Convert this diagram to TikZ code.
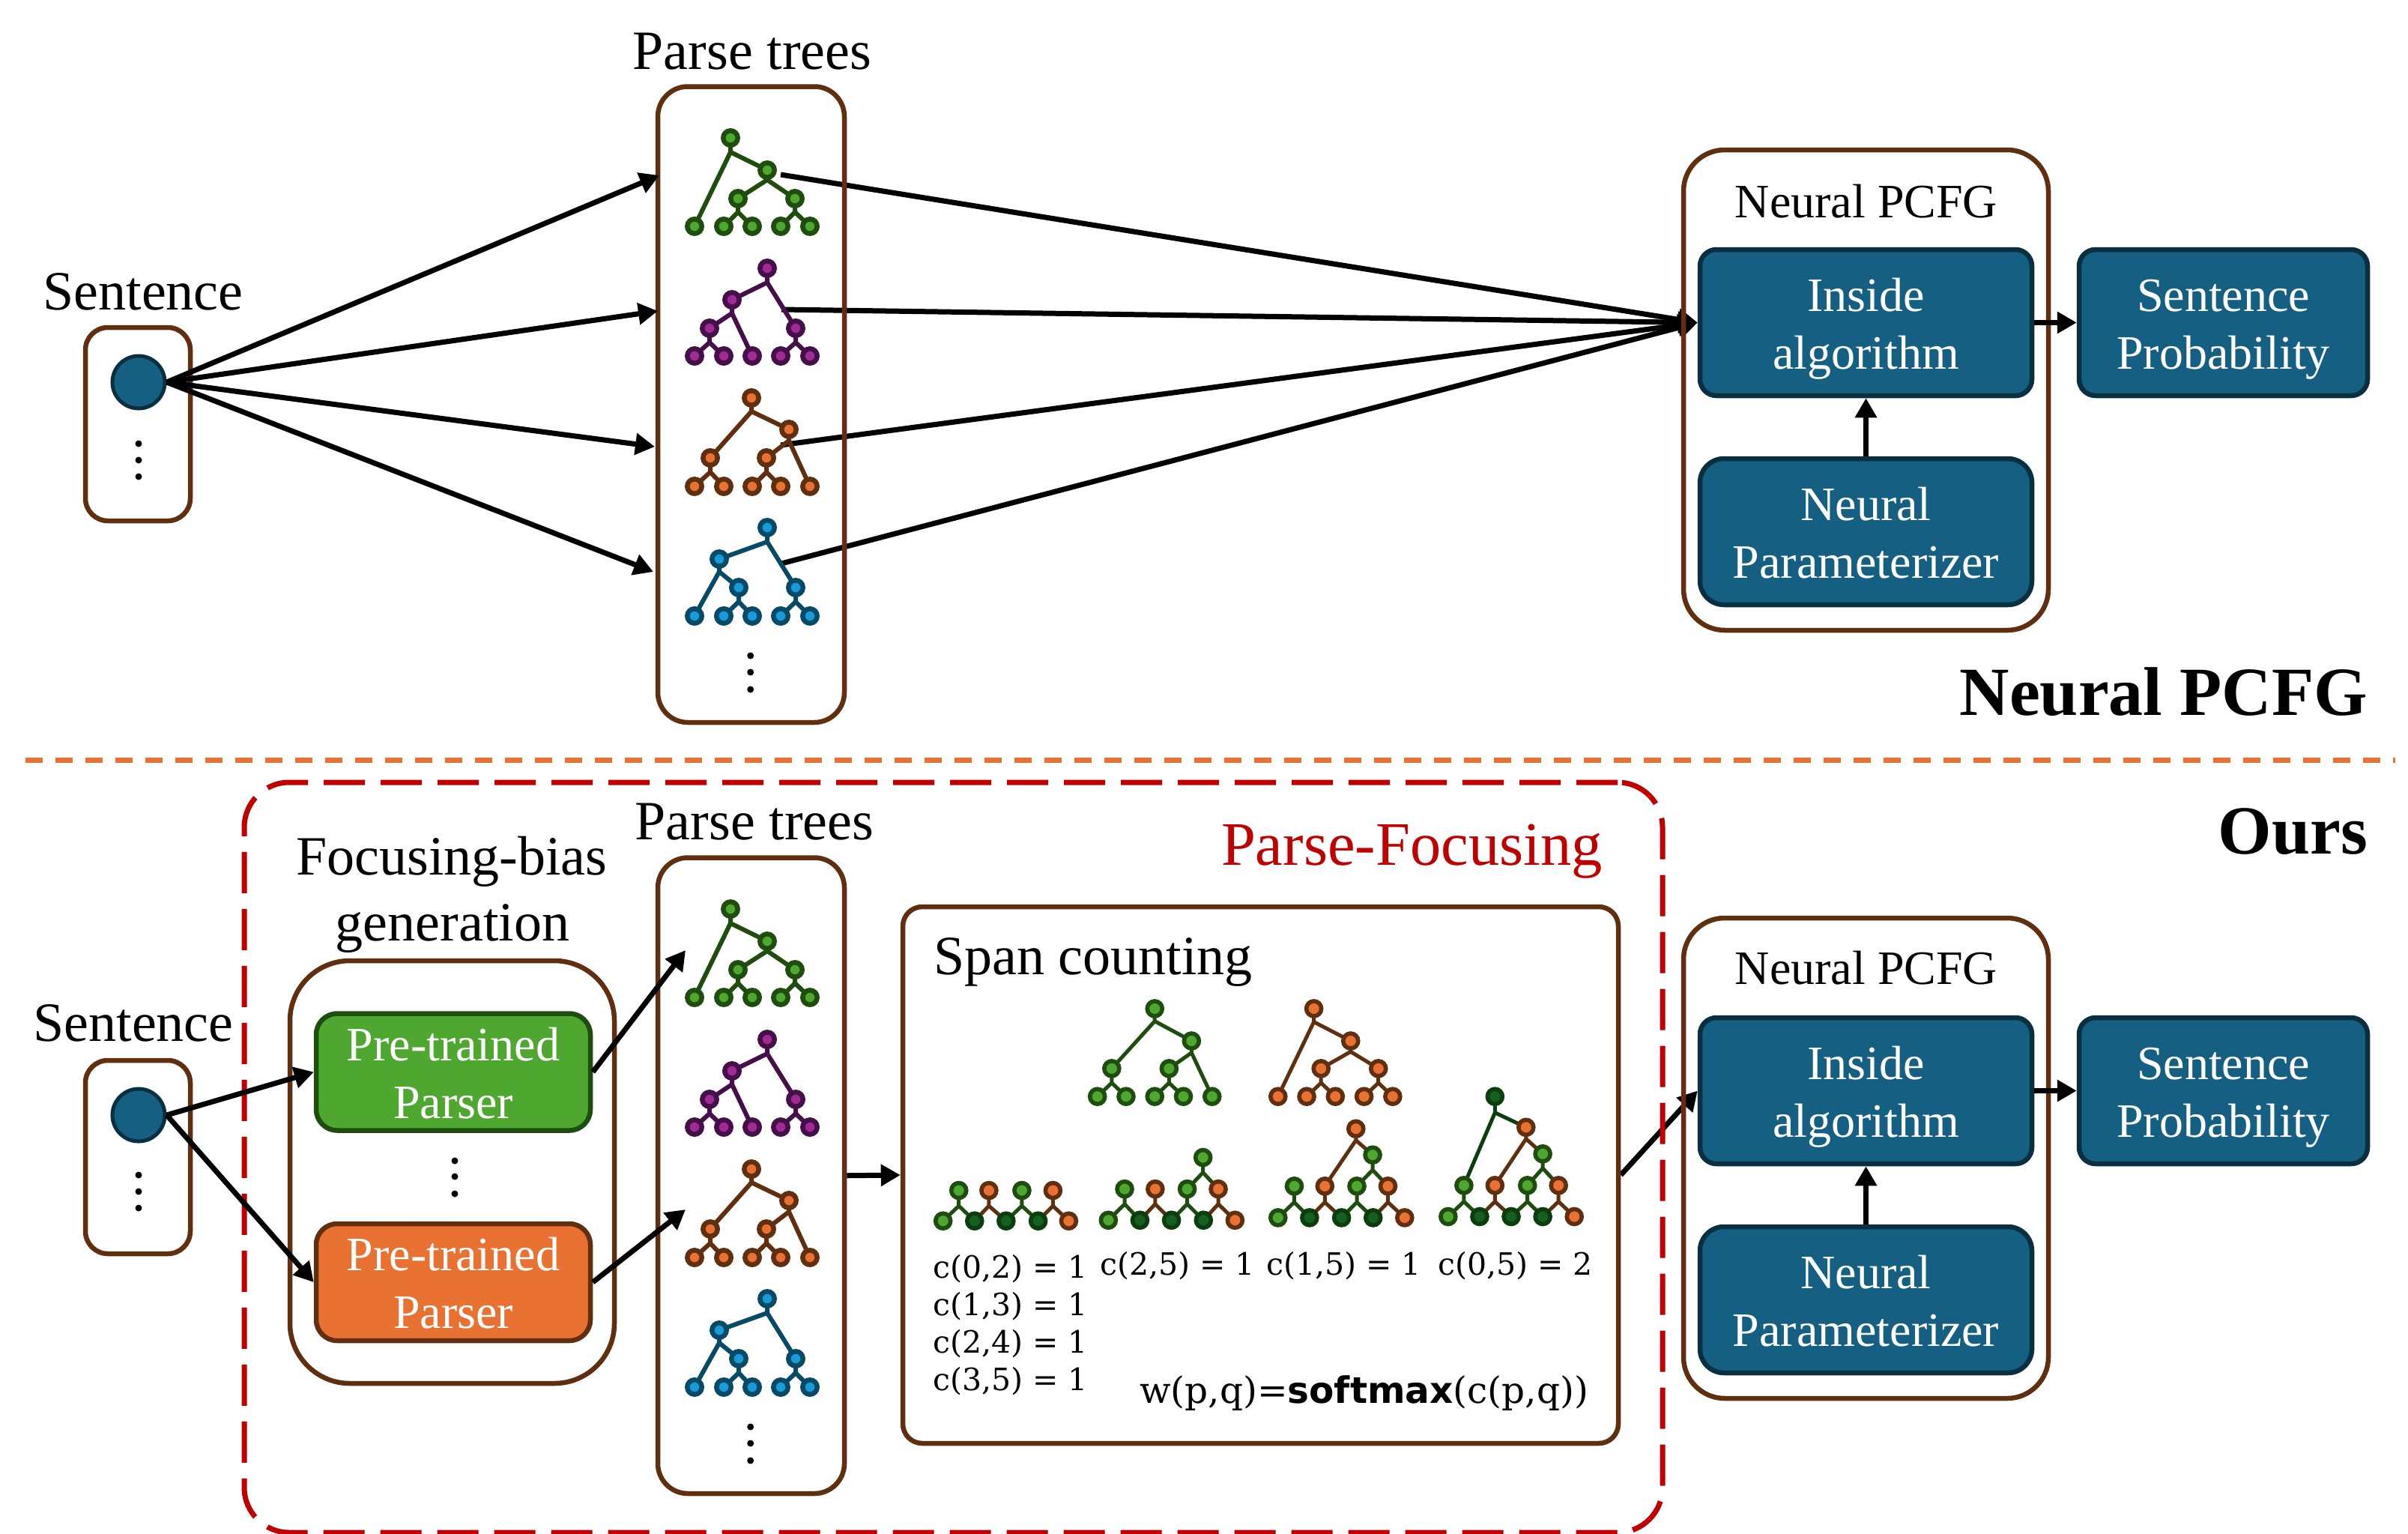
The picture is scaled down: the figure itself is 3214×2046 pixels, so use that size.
\documentclass[tikz,border=0pt]{standalone}
\usepackage{fontspec}
\setmainfont{Liberation Serif}
\newfontfamily\cfont{DejaVu Serif}
\newfontfamily\cbold{DejaVu Sans}
\usetikzlibrary{arrows.meta}
\definecolor{brn}{HTML}{5F2F10}
\definecolor{bluefill}{HTML}{156082}
\definecolor{blueedge}{HTML}{0A2F41}
\definecolor{grnlight}{HTML}{4EA72E}
\definecolor{grndark}{HTML}{1F4D0F}
\definecolor{grnmid}{HTML}{15601F}
\definecolor{grndeep}{HTML}{0C3D0E}
\definecolor{orglight}{HTML}{E97132}
\definecolor{purlight}{HTML}{A02B93}
\definecolor{purdark}{HTML}{450F4A}
\definecolor{cyanlight}{HTML}{169CD8}
\definecolor{cyandark}{HTML}{074A68}
\definecolor{redline}{HTML}{C00000}
\pgfdeclarelayer{bg}
\pgfsetlayers{bg,main}
\newcommand\ls{\rule[-15.5pt]{0pt}{77pt}}
\newcommand\fa{\fontsize{64}{77}\selectfont}
\newcommand\fb{\fontsize{74}{88}\selectfont}
\newcommand\tn[3]{\foreach \p in {#3} \path[draw=#1,fill=#2,line width=6.5pt] \p circle[radius=9.7pt];}
\newcommand\tm[3]{\foreach \p in {#3} \path[draw=#1,fill=#2,line width=5.6pt] \p circle[radius=10pt];}
\newcommand\tdots[3]{\foreach \q in {#2,#3} \fill (#1,\q) circle[radius=4.5pt];}
\newcommand\parsetrees{%
 % green
 \draw[tedge,draw=grndark] (975,184)--(975,203)--(927,302) (975,203)--(1024,227)--(1024,240)--(985,265)--(985,283)--(966,302) (985,283)--(1004,302) (1024,240)--(1061,265)--(1061,283)--(1042,302) (1061,283)--(1081,302);
 \tn{grndark}{grnlight}{(975,184),(1024,227),(985,265),(1061,265),(927,302),(966,302),(1004,302),(1042,302),(1081,302)}
 % purple
 \draw[tedge,draw=purdark] (1024,358)--(1024,377)--(977,400)--(977,418)--(947,438)--(947,457)--(927,475) (947,457)--(966,475) (977,418)--(1004,475) (1024,377)--(1062,438)--(1062,457)--(1042,475) (1062,457)--(1081,475);
 \tn{purdark}{purlight}{(1024,358),(977,400),(947,438),(1062,438),(927,475),(966,475),(1004,475),(1042,475),(1081,475)}
 % orange
 \draw[tedge,draw=brn] (1003,531)--(1003,549)--(948,611)--(948,630)--(927,649) (948,630)--(966,649) (1003,549)--(1053,573)--(1053,588)--(1023,611)--(1023,630)--(1004,649) (1023,630)--(1042,649) (1053,588)--(1081,649);
 \tn{brn}{orglight}{(1003,531),(1053,573),(948,611),(1023,611),(927,649),(966,649),(1004,649),(1042,649),(1081,649)}
 % blue
 \draw[tedge,draw=cyandark] (1024,704)--(1024,723)--(960,746)--(960,763)--(927,822) (960,763)--(986,784)--(986,803)--(966,822) (986,803)--(1004,822) (1024,723)--(1062,784)--(1062,803)--(1042,822) (1062,803)--(1081,822);
 \tn{cyandark}{cyanlight}{(1024,704),(960,746),(986,784),(1062,784),(927,822),(966,822),(1004,822),(1042,822),(1081,822)}
 \tdots{1001.7}{875}{897,920}
}
\tikzset{
 x=1pt,y=-1pt,
 tedge/.style={line width=6pt,line join=round},
 sedge/.style={line width=5pt,line join=round},
 arr/.style={line width=7pt,-{Triangle[length=26pt,width=28pt]}},
 frame/.style={draw=brn,line width=6.5pt,inner sep=0pt},
 bluebox/.style={draw=blueedge,fill=bluefill,line width=6.5pt,inner sep=0pt,text=white,align=center,font=\fa},
 parser/.style={line width=6.5pt,inner sep=0pt,text=white,align=center,font=\fa,minimum width=366pt,minimum height=156pt,rounded corners=28pt},
 txt/.style={inner sep=0pt,anchor=base,font=\fb},
 ctxt/.style={inner sep=0pt,anchor=base west,font=\cfont\fontsize{41}{48}\selectfont},
}
\begin{document}
\begin{tikzpicture}
\useasboundingbox (0,0) rectangle (3214,2046);
% Top half
\node[txt] (t-sent) at (191,413) {Sentence};
\node[frame,minimum width=140pt,minimum height=258pt,rounded corners=30pt] (sbox) at (184,566) {};
\node[circle,draw=blueedge,fill=bluefill,line width=5pt,minimum size=70pt,inner sep=0pt] (sdot) at (185,510) {};
\tdots{185}{592}{614,636}
\node[txt] (t-pt) at (1004,92) {Parse trees};
\node[frame,minimum width=249pt,minimum height=848.5pt,rounded corners=40pt] (pbox) at (1002.5,539.75) {};
\parsetrees
\coordinate (t1in) at (880,234);
\coordinate (t2in) at (878,415);
\coordinate (t3in) at (874,596);
\coordinate (t4in) at (872,763);
\coordinate (t1out) at (1042,233);
\coordinate (t2out) at (1043,413);
\coordinate (t3out) at (1042,594);
\coordinate (t4out) at (1043,752);
\node[frame,minimum width=487pt,minimum height=641pt,rounded corners=55pt] (nbox) at (2490.5,520.5) {};
\node[txt,font=\fa] (t-np) at (2491,290) {Neural PCFG};
\node[bluebox,minimum width=443pt,minimum height=195pt,rounded corners=22pt] (inside) at (2490.5,430.5) {Inside\ls\\algorithm\ls};
\node[bluebox,minimum width=443pt,minimum height=195pt,rounded corners=32pt] (param) at (2490.5,709.5) {Neural\ls\\Parameterizer\ls};
\node[bluebox,minimum width=385pt,minimum height=195pt,rounded corners=22pt] (prob) at (2967.5,430.5) {Sentence\ls\\Probability\ls};
\draw[arr] (sdot.east) -- (t1in);
\draw[arr] (sdot.east) -- (t2in);
\draw[arr] (sdot.east) -- (t3in);
\draw[arr] (sdot.east) -- (t4in);
\begin{pgfonlayer}{bg}
\draw[arr] (t1out) -- (inside.west);
\draw[arr] (t2out) -- (inside.west);
\draw[arr] (t3out) -- (inside.west);
\draw[arr] (t4out) -- (inside.west);
\end{pgfonlayer}
\draw[arr] (inside.east) -- (prob.west);
\draw[arr] (param.north) -- (inside.south);
\node[txt,anchor=base east,font=\bfseries\fontsize{92}{100}\selectfont] (t-a) at (3160,954) {Neural PCFG};
% separator
\coordinate (sepL) at (34,1014.7);
\coordinate (sepR) at (3197,1014.7);
\draw[draw=orglight,line width=6.5pt,dash pattern=on 23pt off 17pt] (sepL) -- (sepR);
% Bottom half
\node[txt,anchor=base east,font=\bfseries\fontsize{92}{100}\selectfont] (t-b) at (3160,1139) {Ours};
\node[draw=redline,line width=7pt,dash pattern=on 55pt off 21pt,inner sep=0pt,minimum width=1893pt,minimum height=1001pt,rounded corners=60pt] (red) at (1272.5,1544.5) {};
\node[txt,text=redline,anchor=base east,font=\fontsize{82.5}{100}\selectfont] (t-pf) at (2139,1154) {Parse-Focusing};
\node[txt] (t-sent2) at (178,1389) {Sentence};
\node[frame,minimum width=140pt,minimum height=258pt,rounded corners=30pt] (sbox2) at (184,1544) {};
\node[circle,draw=blueedge,fill=bluefill,line width=5pt,minimum size=70pt,inner sep=0pt] (sdot2) at (185,1488) {};
\tdots{185}{1568}{1590,1612}
\node[txt] (t-fb) at (603,1167) {Focusing-bias};
\node[txt] (t-gen) at (604,1255) {generation};
\node[frame,minimum width=433pt,minimum height=564pt,rounded corners=80pt] (fbox) at (603.5,1564) {};
\node[parser,draw=grndark,fill=grnlight] (pg) at (605,1430.5) {Pre-trained\ls\\Parser\ls};
\node[parser,draw=brn,fill=orglight] (po) at (605,1711) {Pre-trained\ls\\Parser\ls};
\tdots{607}{1549}{1570,1593}
\node[txt] (t-pt2) at (1007,1120) {Parse trees};
\node[frame,minimum width=249pt,minimum height=848.5pt,rounded corners=40pt] (pbox2) at (1002.5,1568.75) {};
\begin{scope}[yshift=-1029pt]
\parsetrees
\end{scope}
\coordinate (u1in) at (915,1268);
\coordinate (u2in) at (915,1614);
\node[frame,minimum width=955pt,minimum height=716pt,rounded corners=26pt] (span) at (1682.5,1568) {};
\node[txt,anchor=base west] (t-sc) at (1246,1300) {Span counting};
\begin{scope}[shift={(1200pt,-1200pt)},x=0.6378pt,y=-0.4785pt]
 % upper two trees
 \draw[sedge,draw=grndark] (535,305)--(535,340)--(445,472)--(445,512)--(415,550) (445,512)--(475,550) (535,340)--(612,395)--(612,428)--(565,472)--(565,512)--(535,550) (565,512)--(595,550) (612,428)--(655,550);
 \tm{grndark}{grnlight}{(535,305),(612,395),(445,472),(565,472),(415,550),(475,550),(535,550),(595,550),(655,550)}
 \draw[sedge,draw=brn] (868,305)--(868,342)--(793,550) (868,342)--(945,395)--(945,425)--(883,472)--(883,512)--(853,550) (883,512)--(913,550) (945,425)--(1003,472)--(1003,512)--(973,550) (1003,512)--(1033,550);
 \tm{brn}{orglight}{(868,305),(945,395),(883,472),(1003,472),(793,550),(853,550),(913,550),(973,550),(1033,550)}
 % group 1
 \draw[sedge,draw=grndark] (125,812)--(125,855)--(92,897) (125,855)--(158,897) (257,812)--(257,855)--(224,897) (257,855)--(291,897);
 \draw[sedge,draw=brn] (188,812)--(188,855)--(158,897) (188,855)--(224,897) (322,812)--(322,855)--(291,897) (322,855)--(355,897);
 \tm{grndark}{grnlight}{(125,812),(257,812),(92,897)}
 \tm{brn}{orglight}{(188,812),(322,812),(355,897)}
 \tm{grndeep}{grnmid}{(158,897),(224,897),(291,897)}
 % group 2
 \draw[sedge,draw=grndark] (472,808)--(472,850)--(438,895) (472,850)--(504,895) (603,808)--(603,850)--(570,895) (603,850)--(637,895) (636,720)--(636,762)--(603,808) (636,762)--(668,808);
 \draw[sedge,draw=brn] (536,808)--(536,850)--(504,895) (536,850)--(570,895) (668,808)--(668,850)--(637,895) (668,850)--(703,895);
 \tm{grndark}{grnlight}{(472,808),(603,808),(438,895),(636,720)}
 \tm{brn}{orglight}{(536,808),(668,808),(703,895)}
 \tm{grndeep}{grnmid}{(504,895),(570,895),(637,895)}
 % group 3
 \draw[sedge,draw=grndark] (827,800)--(827,845)--(793,888) (827,845)--(859,888) (958,800)--(958,845)--(926,888) (958,845)--(992,888) (991,713)--(991,755)--(958,800) (991,755)--(1023,800);
 \draw[sedge,draw=brn] (891,800)--(891,845)--(859,888) (891,845)--(926,888) (1023,800)--(1023,845)--(992,888) (1023,845)--(1058,888) (956,640)--(956,672)--(891,800) (956,672)--(991,713);
 \tm{grndark}{grnlight}{(827,800),(958,800),(793,888),(991,713)}
 \tm{brn}{orglight}{(891,800),(1023,800),(1058,888),(956,640)}
 \tm{grndeep}{grnmid}{(859,888),(926,888),(992,888)}
 % group 4
 \draw[sedge,draw=grndark] (1182,798)--(1182,843)--(1149,885) (1182,843)--(1215,885) (1315,798)--(1315,843)--(1281,885) (1315,843)--(1347,885) (1347,710)--(1347,750)--(1315,798) (1347,750)--(1380,798);
 \draw[sedge,draw=brn] (1247,798)--(1247,843)--(1215,885) (1247,843)--(1281,885) (1380,798)--(1380,843)--(1347,885) (1380,843)--(1413,885) (1312,636)--(1312,668)--(1247,798) (1312,668)--(1347,710);
 \draw[sedge,draw=grndeep] (1247,550)--(1247,595)--(1182,798) (1247,595)--(1312,636);
 \tm{grndark}{grnlight}{(1182,798),(1315,798),(1149,885),(1347,710)}
 \tm{brn}{orglight}{(1247,798),(1380,798),(1413,885),(1312,636)}
 \tm{grndeep}{grnmid}{(1215,885),(1281,885),(1347,885),(1247,550)}
\end{scope}
\node[ctxt] (c1) at (1245,1705) {c(0,2) = 1};
\node[ctxt] (c2) at (1245,1755) {c(1,3) = 1};
\node[ctxt] (c3) at (1245,1805) {c(2,4) = 1};
\node[ctxt] (c4) at (1245,1855) {c(3,5) = 1};
\node[ctxt] (c5) at (1468,1701) {c(2,5) = 1};
\node[ctxt] (c6) at (1690,1701) {c(1,5) = 1};
\node[ctxt] (c7) at (1919,1701) {c(0,5) = 2};
\node[ctxt,font=\cfont\fontsize{48.5}{54}\selectfont] (c8) at (1521,1872) {w(p,q)={\cbold\bfseries softmax}(c(p,q))};
\node[frame,minimum width=487pt,minimum height=641pt,rounded corners=55pt] (nbox2) at (2490.5,1545.5) {};
\node[txt,font=\fa] (t-np2) at (2491,1313) {Neural PCFG};
\node[bluebox,minimum width=443pt,minimum height=195pt,rounded corners=22pt] (inside2) at (2490.5,1455.5) {Inside\ls\\algorithm\ls};
\node[bluebox,minimum width=443pt,minimum height=195pt,rounded corners=32pt] (param2) at (2490.5,1734.5) {Neural\ls\\Parameterizer\ls};
\node[bluebox,minimum width=385pt,minimum height=195pt,rounded corners=22pt] (prob2) at (2967.5,1455.5) {Sentence\ls\\Probability\ls};
\draw[arr] (sdot2.east) -- (pg.west);
\draw[arr] (sdot2.east) -- (po.west);
\draw[arr] (pg.east) -- (u1in);
\draw[arr] (po.east) -- (u2in);
\draw[arr] (pbox2.east) -- (span.west);
\begin{pgfonlayer}{bg}
\draw[arr] (span.east) -- (inside2.west);
\end{pgfonlayer}
\draw[arr] (inside2.east) -- (prob2.west);
\draw[arr] (param2.north) -- (inside2.south);
\end{tikzpicture}
\end{document}
